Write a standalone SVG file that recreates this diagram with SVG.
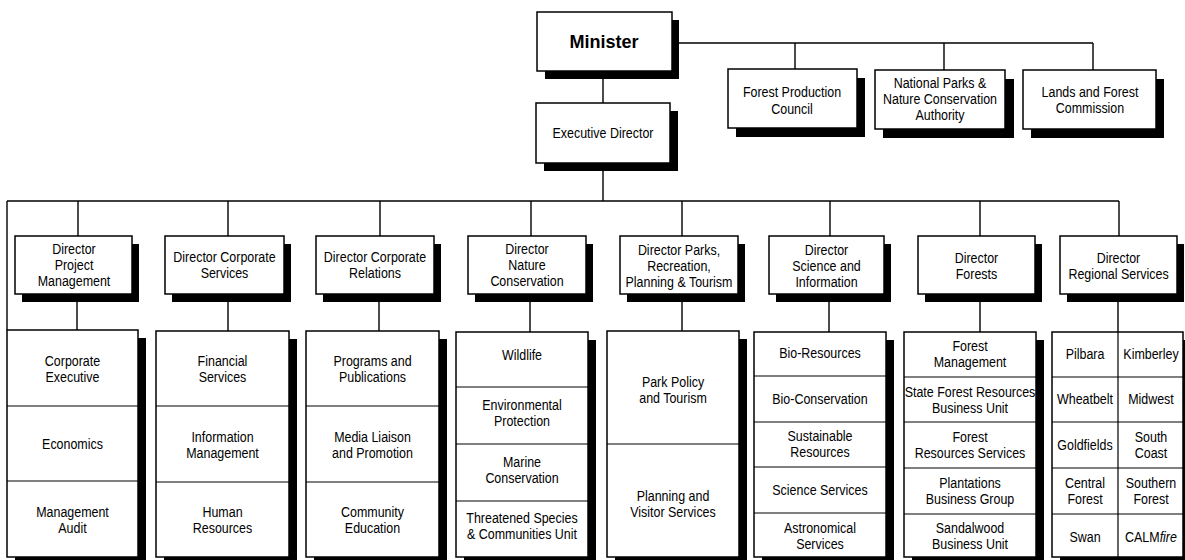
<svg xmlns="http://www.w3.org/2000/svg" width="1185" height="560" viewBox="0 0 1185 560">
<style>
.bg{fill:#fff}
.box{fill:#fff;stroke:#000;stroke-width:1.5}
.sh{fill:#000}
.div{stroke:#000;stroke-width:1.2;fill:none}
.ln{stroke:#000;stroke-width:1.4;fill:none}
text{font-family:"Liberation Sans",Arial,sans-serif;font-size:15px;fill:#000;text-anchor:middle}
.big{font-size:19px;font-weight:bold}
</style>
<rect class="bg" x="0" y="0" width="1185" height="560"/>
<g id="connectors">
<path class="ln" d="M672 43H1093M795 43V69M944 43V71M1093 43V71"/>
<path class="ln" d="M603 71V103M603 163V201"/>
<path class="ln" d="M7 201H1119M7 201V330"/>
<path class="ln" d="M78 201V236M228 201V236M380 201V236M531 201V236M682 201V236M830 201V236M980 201V236M1119 201V236"/>
<path class="ln" d="M77 294V330M228 294V331M379 294V331M530 294V332M682 294V331M829 294V332M980 294V332M1118 294V332"/>
</g>
<g id="minister">
<rect class="sh" x="545" y="20" width="134" height="59"/>
<rect class="box" x="537" y="12" width="135" height="59"/>
<text class="big" transform="translate(604 48) scale(0.95 1)">Minister</text>
</g>
<g id="forest-production-council">
<rect class="sh" x="736" y="78" width="129" height="59"/>
<rect class="box" x="728" y="69" width="129" height="59"/>
<text transform="translate(792 97) scale(0.83 1)">Forest Production</text>
<text transform="translate(792 114) scale(0.83 1)">Council</text>
</g>
<g id="national-parks">
<rect class="sh" x="883" y="79" width="131" height="59"/>
<rect class="box" x="875" y="70" width="130" height="59"/>
<text transform="translate(940 88) scale(0.83 1)">National Parks &amp;</text>
<text transform="translate(940 104) scale(0.83 1)">Nature Conservation</text>
<text transform="translate(940 120) scale(0.83 1)">Authority</text>
</g>
<g id="lands-forest-commission">
<rect class="sh" x="1031" y="79" width="133" height="59"/>
<rect class="box" x="1023" y="70" width="133" height="59"/>
<text transform="translate(1090 97) scale(0.83 1)">Lands and Forest</text>
<text transform="translate(1090 113) scale(0.83 1)">Commission</text>
</g>
<g id="executive-director">
<rect class="sh" x="544" y="111" width="134" height="60"/>
<rect class="box" x="536" y="103" width="134" height="60"/>
<text transform="translate(603 138) scale(0.83 1)">Executive Director</text>
</g>
<g id="dir-project-management">
<rect class="sh" x="22" y="244" width="117" height="58"/>
<rect class="box" x="15" y="236" width="117" height="58"/>
<text transform="translate(74 254) scale(0.83 1)">Director</text>
<text transform="translate(74 270) scale(0.83 1)">Project</text>
<text transform="translate(74 286) scale(0.83 1)">Management</text>
</g>
<g id="dir-corporate-services">
<rect class="sh" x="172" y="244" width="119" height="58"/>
<rect class="box" x="165" y="236" width="119" height="58"/>
<text transform="translate(224.5 262) scale(0.83 1)">Director Corporate</text>
<text transform="translate(224.5 278) scale(0.83 1)">Services</text>
</g>
<g id="dir-corporate-relations">
<rect class="sh" x="323" y="244" width="118" height="58"/>
<rect class="box" x="316" y="236" width="118" height="58"/>
<text transform="translate(375 262) scale(0.83 1)">Director Corporate</text>
<text transform="translate(375 278) scale(0.83 1)">Relations</text>
</g>
<g id="dir-nature-conservation">
<rect class="sh" x="475" y="244" width="118" height="58"/>
<rect class="box" x="468" y="236" width="118" height="58"/>
<text transform="translate(527 254) scale(0.83 1)">Director</text>
<text transform="translate(527 270) scale(0.83 1)">Nature</text>
<text transform="translate(527 286) scale(0.83 1)">Conservation</text>
</g>
<g id="dir-parks">
<rect class="sh" x="627" y="244" width="118" height="58"/>
<rect class="box" x="620" y="236" width="118" height="58"/>
<text transform="translate(679 255) scale(0.83 1)">Director Parks,</text>
<text transform="translate(679 271) scale(0.83 1)">Recreation,</text>
<text transform="translate(679 287) scale(0.83 1)">Planning &amp; Tourism</text>
</g>
<g id="dir-science">
<rect class="sh" x="776" y="244" width="115" height="58"/>
<rect class="box" x="769" y="236" width="115" height="58"/>
<text transform="translate(826.5 255) scale(0.83 1)">Director</text>
<text transform="translate(826.5 271) scale(0.83 1)">Science and</text>
<text transform="translate(826.5 287) scale(0.83 1)">Information</text>
</g>
<g id="dir-forests">
<rect class="sh" x="925" y="244" width="117" height="58"/>
<rect class="box" x="918" y="236" width="117" height="58"/>
<text transform="translate(976.5 263) scale(0.83 1)">Director</text>
<text transform="translate(976.5 279) scale(0.83 1)">Forests</text>
</g>
<g id="dir-regional">
<rect class="sh" x="1067" y="244" width="117" height="58"/>
<rect class="box" x="1060" y="236" width="117" height="58"/>
<text transform="translate(1118.5 263) scale(0.83 1)">Director</text>
<text transform="translate(1118.5 279) scale(0.83 1)">Regional Services</text>
</g>
<g id="col-project-management">
<rect class="sh" x="15" y="338" width="131" height="227"/>
<rect class="box" x="7" y="330" width="131" height="227"/>
<path class="div" d="M7 406H138M7 481H138"/>
<text transform="translate(72.5 366) scale(0.83 1)">Corporate</text>
<text transform="translate(72.5 382) scale(0.83 1)">Executive</text>
<text transform="translate(72.5 449) scale(0.83 1)">Economics</text>
<text transform="translate(72.5 517) scale(0.83 1)">Management</text>
<text transform="translate(72.5 533) scale(0.83 1)">Audit</text>
</g>
<g id="col-corporate-services">
<rect class="sh" x="164" y="339" width="133" height="226"/>
<rect class="box" x="156" y="331" width="133" height="226"/>
<path class="div" d="M156 406H289M156 482H289"/>
<text transform="translate(222.5 366) scale(0.83 1)">Financial</text>
<text transform="translate(222.5 382) scale(0.83 1)">Services</text>
<text transform="translate(222.5 442) scale(0.83 1)">Information</text>
<text transform="translate(222.5 458) scale(0.83 1)">Management</text>
<text transform="translate(222.5 517) scale(0.83 1)">Human</text>
<text transform="translate(222.5 533) scale(0.83 1)">Resources</text>
</g>
<g id="col-corporate-relations">
<rect class="sh" x="314" y="339" width="133" height="226"/>
<rect class="box" x="306" y="331" width="133" height="226"/>
<path class="div" d="M306 406H439M306 482H439"/>
<text transform="translate(372.5 366) scale(0.83 1)">Programs and</text>
<text transform="translate(372.5 382) scale(0.83 1)">Publications</text>
<text transform="translate(372.5 442) scale(0.83 1)">Media Liaison</text>
<text transform="translate(372.5 458) scale(0.83 1)">and Promotion</text>
<text transform="translate(372.5 517) scale(0.83 1)">Community</text>
<text transform="translate(372.5 533) scale(0.83 1)">Education</text>
</g>
<g id="col-nature-conservation">
<rect class="sh" x="464" y="340" width="132" height="225"/>
<rect class="box" x="456" y="332" width="132" height="225"/>
<path class="div" d="M456 387H588M456 444H588M456 501H588"/>
<text transform="translate(522 360) scale(0.83 1)">Wildlife</text>
<text transform="translate(522 410) scale(0.83 1)">Environmental</text>
<text transform="translate(522 426) scale(0.83 1)">Protection</text>
<text transform="translate(522 467) scale(0.83 1)">Marine</text>
<text transform="translate(522 483) scale(0.83 1)">Conservation</text>
<text transform="translate(522 523) scale(0.83 1)">Threatened Species</text>
<text transform="translate(522 539) scale(0.83 1)">&amp; Communities Unit</text>
</g>
<g id="col-parks">
<rect class="sh" x="615" y="339" width="132" height="226"/>
<rect class="box" x="607" y="331" width="132" height="226"/>
<path class="div" d="M607 444H739"/>
<text transform="translate(673 387) scale(0.83 1)">Park Policy</text>
<text transform="translate(673 403) scale(0.83 1)">and Tourism</text>
<text transform="translate(673 501) scale(0.83 1)">Planning and</text>
<text transform="translate(673 517) scale(0.83 1)">Visitor Services</text>
</g>
<g id="col-science">
<rect class="sh" x="762" y="340" width="132" height="225"/>
<rect class="box" x="754" y="332" width="132" height="225"/>
<path class="div" d="M754 376H886M754 422H886M754 467H886M754 513H886"/>
<text transform="translate(820 358) scale(0.83 1)">Bio-Resources</text>
<text transform="translate(820 404) scale(0.83 1)">Bio-Conservation</text>
<text transform="translate(820 441) scale(0.83 1)">Sustainable</text>
<text transform="translate(820 457) scale(0.83 1)">Resources</text>
<text transform="translate(820 495) scale(0.83 1)">Science Services</text>
<text transform="translate(820 533) scale(0.83 1)">Astronomical</text>
<text transform="translate(820 549) scale(0.83 1)">Services</text>
</g>
<g id="col-forests">
<rect class="sh" x="912" y="340" width="132" height="225"/>
<rect class="box" x="904" y="332" width="132" height="225"/>
<path class="div" d="M904 377H1036M904 422H1036M904 468H1036M904 514H1036"/>
<text transform="translate(970 351) scale(0.83 1)">Forest</text>
<text transform="translate(970 367) scale(0.83 1)">Management</text>
<text transform="translate(970 397) scale(0.83 1)">State Forest Resources</text>
<text transform="translate(970 413) scale(0.83 1)">Business Unit</text>
<text transform="translate(970 442) scale(0.83 1)">Forest</text>
<text transform="translate(970 458) scale(0.83 1)">Resources Services</text>
<text transform="translate(970 488) scale(0.83 1)">Plantations</text>
<text transform="translate(970 504) scale(0.83 1)">Business Group</text>
<text transform="translate(970 533) scale(0.83 1)">Sandalwood</text>
<text transform="translate(970 549) scale(0.83 1)">Business Unit</text>
</g>
<g id="col-regional">
<rect class="sh" x="1060" y="340" width="131" height="225"/>
<rect class="box" x="1052" y="332" width="131" height="225"/>
<path class="div" d="M1052 377H1183M1052 422H1183M1052 468H1183M1052 514H1183M1118 332V557"/>
<text transform="translate(1085 359) scale(0.83 1)">Pilbara</text>
<text transform="translate(1151 359) scale(0.83 1)">Kimberley</text>
<text transform="translate(1085 404) scale(0.83 1)">Wheatbelt</text>
<text transform="translate(1151 404) scale(0.83 1)">Midwest</text>
<text transform="translate(1085 450) scale(0.83 1)">Goldfields</text>
<text transform="translate(1151 442) scale(0.83 1)">South</text>
<text transform="translate(1151 458) scale(0.83 1)">Coast</text>
<text transform="translate(1085 488) scale(0.83 1)">Central</text>
<text transform="translate(1085 504) scale(0.83 1)">Forest</text>
<text transform="translate(1151 488) scale(0.83 1)">Southern</text>
<text transform="translate(1151 504) scale(0.83 1)">Forest</text>
<text transform="translate(1085 542) scale(0.83 1)">Swan</text>
<text transform="translate(1151 542) scale(0.83 1)">CALM<tspan font-style="italic">fire</tspan></text>
</g>
</svg>
